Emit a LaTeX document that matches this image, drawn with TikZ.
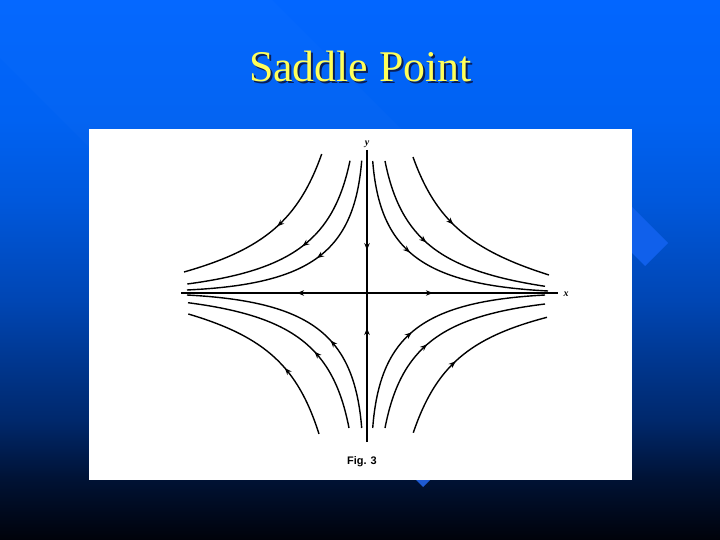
\documentclass[tikz,border=0pt]{standalone}
\usepackage{fontspec}
\setmainfont{Liberation Serif}
\newfontfamily\figsans{Liberation Sans}
\usetikzlibrary{arrows.meta,decorations.markings,calc}
\definecolor{bgK}{RGB}{0,2,10}
\definecolor{bgA}{RGB}{0,18,52}
\definecolor{bgB}{RGB}{0,40,108}
\definecolor{bgC}{RGB}{0,70,180}
\definecolor{bgD}{RGB}{0,88,220}
\definecolor{bgE}{RGB}{0,98,242}
\definecolor{bgF}{RGB}{2,102,255}
\definecolor{titleyellow}{RGB}{255,255,90}
\definecolor{shadowblue}{RGB}{10,30,85}
\definecolor{diamondblue}{RGB}{16,96,235}
\definecolor{tipblue}{RGB}{30,90,210}
\pgfdeclareverticalshading{slidebg}{100bp}{color(0bp)=(bgK); color(25bp)=(bgK); color(30.6bp)=(bgA); color(36.1bp)=(bgB); color(47.2bp)=(bgC); color(56.5bp)=(bgD); color(63.9bp)=(bgE); color(75bp)=(bgF); color(100bp)=(bgF)}
\newcommand{\traject}[4]{\draw[traj, flowarrow=#4] (#1) .. controls ($(#1)!0.75!(#3)$) and ($(#2)!0.75!(#3)$) .. (#2);}
\begin{document}
\begin{tikzpicture}[x=1bp,y=-1bp,
  traj/.style={line width=1.4bp, black},
  axisline/.style={line width=1.3bp, black},
  flowarrow/.style={postaction={decorate}, decoration={markings, mark=at position #1 with {\arrow{Stealth[length=7bp,width=5.5bp]}}}},
  titletext/.style={font=\fontsize{44}{50}\selectfont, anchor=base, inner sep=0pt},
  axislabel/.style={font=\itshape\bfseries\fontsize{10}{10}\selectfont, inner sep=0pt}]
\useasboundingbox (0,0) rectangle (720,540);
\shade[shading=slidebg] (0,0) rectangle (720,540);
% faint template band
\fill[white, opacity=0.015] (0,0) -- (272,0) -- (401,129) -- (89,129) -- (89,147) -- (0,58) -- cycle;
% template diamonds
\fill[diamondblue] (668,243) -- (645,266) -- (600,221) -- (623,198) -- cycle;
\fill[tipblue] (423,453) -- (440,470) -- (423,487) -- (406,470) -- cycle;
% white panel
\fill[white] (89,129) rectangle (632,480);
% title with shadow
\node[titletext, text=titleyellow] (title) at (360.5,82)
  {\makebox[0pt][l]{\hspace{2bp}\raisebox{-2bp}{\color{shadowblue}Saddle Point}}Saddle Point};
% axes
\coordinate (O) at (367,293);
\coordinate (ytop) at (367,150);
\coordinate (ybot) at (367,442);
\coordinate (xleft) at (181,293);
\coordinate (xright) at (558,293);
\draw[axisline, flowarrow=0.7] (ytop) -- (O);
\draw[axisline, flowarrow=0.765] (ybot) -- (O);
\draw[axisline, flowarrow=0.376] (O) -- (xleft);
\draw[axisline, flowarrow=0.345] (O) -- (xright);
\node[axislabel] (ylab) at (367,144) {y};
\node[axislabel] (xlab) at (566,294) {x};
\node[font=\figsans\bfseries\fontsize{11}{11}\selectfont, inner sep=0pt] (figlab) at (362,462) {Fig. 3};
% trajectories: upper right
\begin{scope}[shift={(367,293)}, yscale=-1]
\traject{46,136}{182,18}{76.3,51.4}{0.42}
\traject{18,132}{178,6.7}{38.8,27.9}{0.42}
\traject{5.7,132}{181,2}{15.2,10.7}{0.41}
\end{scope}
% upper left
\begin{scope}[shift={(367,293)}, xscale=-1, yscale=-1]
\traject{45.3,139}{183,21}{76.3,51.4}{0.45}
\traject{17,132.3}{179.7,9}{38.8,27.9}{0.45}
\traject{5.3,132.3}{180,3}{15.2,10.7}{0.45}
\end{scope}
% lower right
\begin{scope}[shift={(367,293)}]
\traject{46.3,139.7}{180,24.3}{76.3,51.4}{0.45}
\traject{18,135}{178,11}{38.8,27.9}{0.43}
\traject{5.7,135}{178,2}{15.2,10.7}{0.43}
\end{scope}
% lower left
\begin{scope}[shift={(367,293)}, xscale=-1]
\traject{48,141}{178.7,21}{76.3,51.4}{0.40}
\traject{18,135}{179,9.7}{38.8,27.9}{0.38}
\traject{5.3,135}{180,2}{15.2,10.7}{0.38}
\end{scope}
\end{tikzpicture}
\end{document}
